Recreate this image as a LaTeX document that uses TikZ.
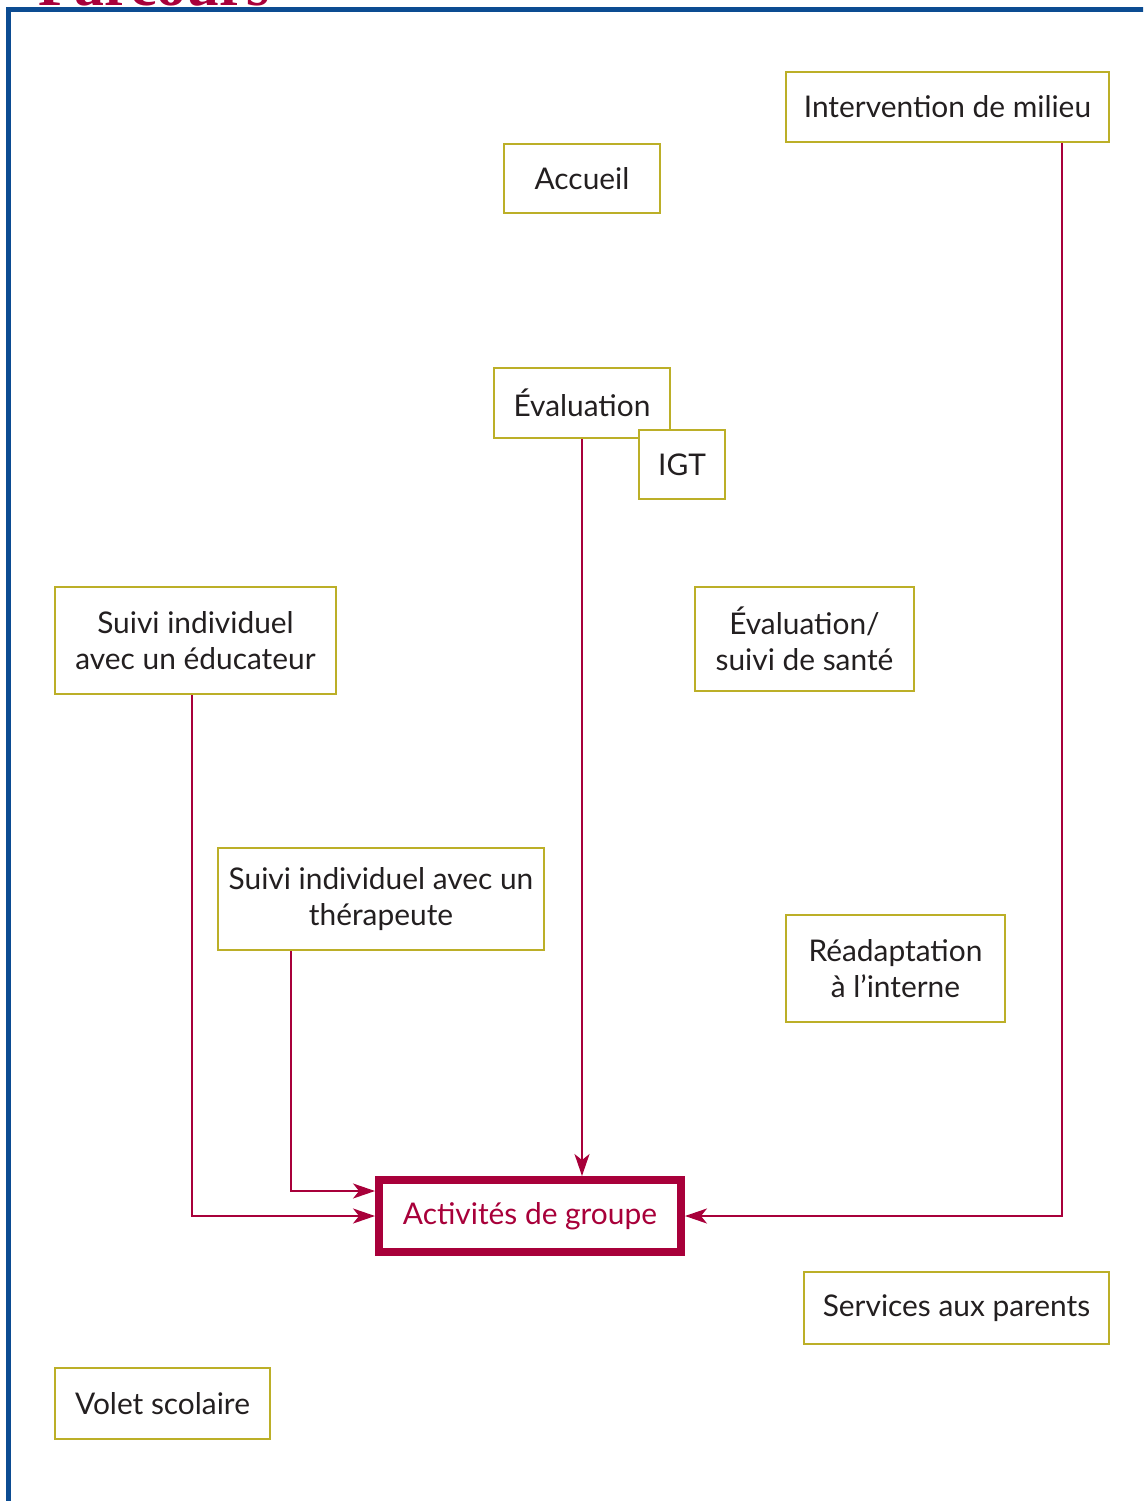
\documentclass[tikz,border=0pt]{standalone}
\usepackage{fontspec}
\setmainfont{Lato}
\newfontfamily\titlefont{Liberation Serif}
\usetikzlibrary{arrows.meta}
\definecolor{olive}{RGB}{188,175,40}
\definecolor{wine}{RGB}{168,0,58}
\definecolor{frameblue}{RGB}{12,76,146}
\definecolor{ink}{RGB}{35,31,32}
\tikzset{
  box/.style={draw=olive, line width=0.055cm, fill=white, align=center, text=ink,
    font=\fontsize{17}{20.4}\selectfont, inner sep=0pt},
  mainbox/.style={draw=wine, line width=0.16cm, fill=white, align=center, text=wine,
    font=\fontsize{17}{20.4}\selectfont, inner sep=0pt},
  link/.style={draw=wine, line width=0.04cm, -{Stealth[length=0.44cm,width=0.3cm,inset=0.12cm]}},
}
\begin{document}
\begin{tikzpicture}[x=0.02cm,y=-0.02cm]
\useasboundingbox (0,0) rectangle (1143,1501);
\begin{scope}
\clip (0,0) rectangle (1143,1501);
\node[anchor=base west, inner sep=0pt, text=wine, font=\titlefont\bfseries\fontsize{34}{34}\selectfont] (title) at (38,6) {Parcours};
\draw[frameblue, line width=0.1cm] (8.5,1510) -- (8.5,9.5) -- (1150,9.5);
\end{scope}

\node[box, minimum width=6.46cm, minimum height=1.40cm] (inter) at (947.5,107) {Intervention de milieu};
\node[box, minimum width=3.12cm, minimum height=1.38cm] (accueil) at (582,178.5) {Accueil};
\node[box, minimum width=3.52cm, minimum height=1.40cm] (eval) at (582,403) {Évaluation};
\node[box, minimum width=1.72cm, minimum height=1.38cm] (igt) at (682,464.5) {IGT};
\node[box, minimum width=5.62cm, minimum height=2.14cm] (educ) at (195.5,640.5) {Suivi individuel\\avec un éducateur};
\node[box, minimum width=4.38cm, minimum height=2.08cm] (sante) at (804.5,639) {Évaluation/\\suivi de santé};
\node[box, minimum width=6.52cm, minimum height=2.04cm] (thera) at (381,899) {Suivi individuel avec un\\thérapeute};
\node[box, minimum width=4.38cm, minimum height=2.14cm] (readapt) at (895.5,968.5) {Réadaptation\\à l’interne};
\node[mainbox, minimum width=6.04cm, minimum height=1.44cm] (act) at (530,1216) {Activités de groupe};
\node[box, minimum width=6.10cm, minimum height=1.44cm] (parents) at (956.5,1308) {Services aux parents};
\node[box, minimum width=4.30cm, minimum height=1.42cm] (volet) at (162.5,1403.5) {Volet scolaire};

\draw[link] (eval.south) -- (eval.south |- act.north);
\draw[link] ([xshift=2.29cm]inter.south) |- (act.east);
\draw[link] ([xshift=-0.07cm]educ.south) |- (act.west);
\draw[link] ([xshift=-1.8cm]thera.south) |- ([yshift=0.5cm]act.west);
\end{tikzpicture}
\end{document}
